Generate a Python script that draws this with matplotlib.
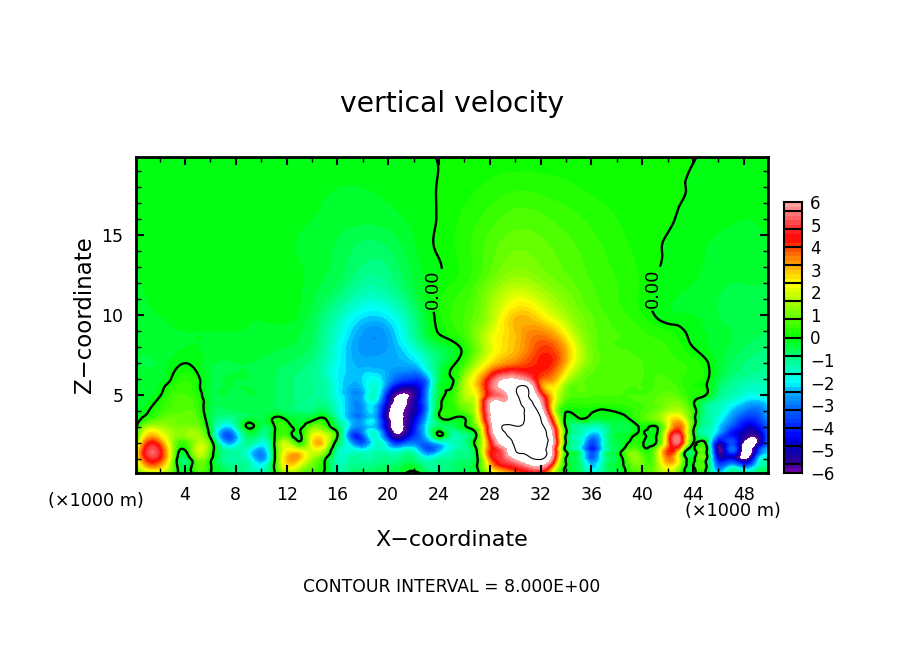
import numpy as np
import matplotlib
matplotlib.use('Agg')
import matplotlib.pyplot as plt
from matplotlib.colors import LinearSegmentedColormap
from matplotlib.tri import Triangulation, UniformTriRefiner

y_low = [0.1, 0.5, 1, 1.5, 2, 2.5, 3, 3.5, 4, 4.5, 5, 5.5, 6]
x_low = list(range(0, 51))
w_low = [
[0.3,1.2,1.4,0.6,-0.3,0.5,0.1,-0.5,-0.8,-1,-1.2,-0.1,1.2,1.0,0.5,-0.1,-1,-0.8,-0.7,-0.6,-0.5,-0.3,0.3,-0.5,-0.8,-0.6,-0.5,-0.1,1.5,2.5,3.5,4.2,4,2,-0.1,-0.5,-1.5,-0.8,-0.3,0.3,0.6,1,1.5,0.6,-0.1,0.1,-2,-1.2,-1,-0.9,-0.7],
[0.8,3,3,1,-0.6,0.8,0.1,-0.7,-1,-1.2,-1.8,0,2.4,1.8,0.8,0,-1.3,-1,-0.9,-0.8,-0.7,-0.5,-0.3,-1,-1,-0.8,-0.6,0,2.5,4,4.6,5.4,5.9,3,-0.1,-0.7,-2.2,-1,-0.4,0.5,0.8,1,2.5,1,-0.1,0.2,-3.2,-2,-3,-1.7,-1.2],
[1.2,4.3,4.2,1.3,-0.8,1.1,0.2,-1,-1.2,-1.6,-2.8,-0.3,2.9,2.9,1.4,0.1,-1.4,-1.2,-1.2,-1.1,-1,-0.9,-0.8,-1.6,-1.2,-1,-0.8,-0.1,3.5,5,6.2,7.5,8.1,5,-0.1,-0.9,-3.2,-1.3,-0.5,0.9,0.9,1,3.5,1.5,-0.2,0.3,-4.6,-4.5,-6.3,-3,-1.8],
[1.2,4.8,4.6,1.5,-0.1,1.9,0.6,-1,-1.2,-1.8,-2.8,-0.3,2.4,2.3,2,1.3,-1.3,-1.6,-1.8,-1.4,-1.6,-1.6,-1.6,-3.2,-2.5,-1.4,-1,0.1,4,5.2,7.9,8.3,8.6,5.5,-0.1,-1.2,-3.8,-1.5,-0.5,0.9,0.4,1,4,2,-0.5,0.3,-5.6,-3.3,-6.8,-4.5,-2.3],
[0,4,3.7,1.4,0.5,1.6,0.6,-2.2,-2.2,-1,-1.8,-0.1,1.8,0.2,2.4,2.4,-0.6,-2.4,-3.4,-1.6,-2.8,-3.8,-3,-3.2,-2.2,-1.5,-1,0.5,4,6.8,8.2,8.6,8.4,6.2,-0.1,-1.4,-3.6,-1.6,-0.5,0.1,0.1,-0.1,3.2,4.7,0,-0.1,-5,-3.5,-6.5,-6.2,-2.8],
[-0.5,2.7,2.5,1.5,1.3,1.5,-0.3,-3.2,-2.6,-0.6,-1,-0.1,0.5,-0.2,2,2,0.05,-3.3,-3.3,-1.6,-4.5,-5.8,-4,-2.2,0.1,-1.2,-1,0.2,4.8,7.6,8.4,8.2,8.5,5.8,-0.1,-1.4,-2.6,-1.5,-0.4,-0.2,0.1,-0.1,3,4.6,0.2,-1.2,-3,-4.2,-5.2,-5.6,-2.8],
[-0.4,1.5,1.6,1.2,1.1,1,-0.5,-2.2,-1.5,0.1,-0.6,-0.1,0.4,-0.2,1,0.6,-0.6,-2.4,-2.7,-2.5,-5.5,-6.4,-4.4,-2,-0.6,-0.7,-0.1,1,5.3,8.05,8.1,8.3,8.4,5,-0.1,-1.2,-1.5,-1.2,-0.5,-0.5,0.1,-0.1,2,3.7,0.3,-1.2,-2.2,-3.5,-4.6,-4.6,-3],
[-0.3,0.3,0.8,1,0.9,0.7,-0.5,-1.1,-0.9,-0.4,-0.5,0.1,-0.1,-0.4,-0.2,0.05,-1.2,-2.5,-2.7,-2.5,-5.8,-6.3,-4.8,-2.5,-0.3,-0.05,-0.05,1.8,5.9,7.6,7.4,8.4,8.05,3.5,-0.2,-0.1,-0.3,-0.3,-0.3,0,0.6,1,2.2,2.6,0.4,-1.1,-1.8,-2.8,-3.8,-3.8,-2.6],
[-0.3,-0.05,0.4,0.7,0.8,0.5,-0.5,-0.7,-0.6,-0.5,-0.5,-0.5,-0.7,-0.8,-0.8,-0.7,-1.6,-2.6,-2.7,-2.5,-5.8,-6.3,-5.2,-3,-0.1,0.3,0.7,2.2,6.1,7,7,8.4,7.2,2.2,0.03,0.1,0.05,-0.05,0.05,0.3,0.6,0.9,1.5,1.6,0.4,-1,-1.5,-2.3,-3,-3.2,-2.4],
[-0.3,-0.2,0.2,0.6,0.7,0.4,-0.4,-0.5,-0.5,-0.5,-0.5,-0.6,-0.7,-0.9,-1,-1,-1.7,-2.6,-2.6,-2.2,-5.2,-6.4,-5.3,-3,-0.2,0.3,1.2,2.3,6,6.2,7.2,8.4,6.2,2.4,0.5,0.4,0.4,0.4,0.4,0.5,0.6,0.8,1.1,1.1,0.1,-0.9,-1.3,-1.8,-2.3,-2.6,-2],
[-0.3,-0.3,-0.05,0.5,0.6,0.25,-0.4,-0.4,-0.5,-0.4,-0.5,-0.6,-0.7,-0.9,-1,-1.2,-1.9,-2.6,-2.5,-1.6,-4.6,-6.2,-5.6,-3,-0.4,0.3,1.6,2.4,4.8,5.5,7.6,8.1,5,2.5,0.9,0.7,0.6,0.6,0.6,0.6,0.6,0.7,0.9,0.6,0.3,0,-0.9,-1.3,-1.7,-1.8,-1.6],
[-0.3,-0.3,-0.15,0.3,0.5,0.12,-0.4,-0.4,-0.4,-0.4,-0.5,-0.6,-0.7,-0.9,-1,-1.2,-1.9,-2.5,-2.3,-1.6,-3.4,-5,-5,-3.2,-0.4,0,1.6,2.8,5,6.3,7.6,7.8,3.7,2.5,1.1,0.8,0.7,0.7,0.7,0.6,0.6,0.6,0.7,0.5,0.2,0.05,-0.7,-1.1,-1.4,-1.5,-1.4],
[-0.3,-0.3,-0.3,0.05,0.35,0.1,-0.4,-0.4,-0.4,-0.4,-0.5,-0.6,-0.7,-0.9,-1,-1.3,-2,-2.3,-2.2,-1.9,-2.7,-3.5,-3.8,-3,-0.6,-0.05,1.4,2.8,4.6,6,6.2,5.5,3.8,3.3,1.8,1,0.7,0.7,0.7,0.7,0.6,0.6,0.6,0.4,0.3,0.1,-0.5,-0.9,-1.1,-1.2,-1.2],
]
y_high = [7, 8, 9, 10, 12, 14, 16, 18, 19.9]
x_high = list(range(0, 51, 2))
w_high = [
[-.4,-.35,0,-.35,-.4,-.45,-.6,-.9,-1.9,-2.5,-2.5,-2.3,-.7,.5,2.6,3.6,4.3,3,1,.7,.6,.5,.3,-.3,-.8,-1],
[-.35,-.3,-.2,-.25,-.3,-.3,-.4,-.7,-1.8,-2.7,-2.6,-1.6,-.5,.2,2,3,4,3,1,.6,.5,.4,0,-.3,-.6,-.8],
[-.3,-.25,-.2,-.2,-.2,-.25,-.3,-.6,-1.6,-2.6,-2.5,-1.1,.05,.6,1.9,3,3.4,2.2,.9,.6,.4,.2,-.1,-.3,-.5,-.6],
[-.25,-.2,-.15,-.15,-.15,-.15,-.1,-.5,-1.3,-2.1,-2,-.9,.15,.6,1.5,2.9,2.5,1.5,.8,.5,.2,-.15,-.2,-.4,-.5,-.5],
[-.25,-.1,-.08,-.1,-.1,-.1,-.08,-.3,-.6,-1.1,-1,-.4,.05,.35,1,1.6,1.3,.9,.6,.4,.15,-.1,-.2,-.35,-.4,-.4],
[-.2,-.1,-.05,-.05,-.1,-.15,-.15,-.3,-.45,-.7,-.65,-.25,.03,.3,.7,1,.9,.7,.5,.3,.12,-.03,-.15,-.25,-.3,-.25],
[-.2,-.1,-.03,-.05,-.1,-.12,-.15,-.2,-.3,-.35,-.3,-.15,.02,.25,.5,.7,.65,.5,.35,.2,.1,.03,-.08,-.15,-.2,-.15],
[-.05,-.03,-.03,-.05,-.08,-.1,-.12,-.15,-.2,-.2,-.15,-.07,.01,.12,.25,.35,.32,.25,.15,.1,.05,.03,-.015,-.06,-.07,-.05],
[-.02,-.02,-.02,-.02,-.02,-.02,-.02,-.02,-.02,-.03,-.05,-.07,.01,.05,.08,.08,.08,.06,.05,.04,.03,.02,.01,-.09,-.05,-.02],
]
x_ticks = [4, 8, 12, 16, 20, 24, 28, 32, 36, 40, 44, 48]
y_ticks = [5, 10, 15]
bar_ticks = [6, 5, 4, 3, 2, 1, 0, -1, -2, -3, -4, -5, -6]
bar_breaks = [-5.6, -4.8, -4, -3.2, -2.4, -1.6, -0.8, 0, 0.8, 1.6, 2.4, 3.2, 4, 4.8, 5.6]
nodes = [(-6,(120,0,170)),(-5.5,(40,0,150)),(-4.8,(0,0,190)),(-4.4,(0,0,255)),(-3.2,(0,100,255)),
         (-2.4,(0,180,255)),(-2,(0,255,255)),(-1.6,(0,255,210)),(-0.8,(0,255,120)),(0,(0,255,0)),
         (0.8,(90,255,0)),(1.6,(170,255,0)),(2.4,(255,255,0)),(3.2,(255,170,0)),(4,(255,70,0)),
         (4.4,(255,0,0)),(5,(255,60,60)),(6,(255,170,170))]
cmap = LinearSegmentedColormap.from_list('w', [((v+6)/12, tuple(c/255 for c in col)) for v, col in nodes], N=256)
levels = np.arange(-30, 31) * 0.2

W, H = 904, 654
fig = plt.figure(figsize=(W/100, H/100), dpi=100, facecolor='white')
plt.rcParams['font.family'] = 'DejaVu Sans'

def px_axes(x0, y0, x1, y1):
    return fig.add_axes([x0/W, 1-y1/H, (x1-x0)/W, (y1-y0)/H])

ax = px_axes(136, 157, 768, 473)
ax.set_facecolor('white')

xx_l, yy_l = np.meshgrid(x_low, y_low)
xx_h, yy_h = np.meshgrid(x_high, y_high)
px = np.r_[xx_l.ravel(), xx_h.ravel()].astype(float)
py = np.r_[yy_l.ravel(), yy_h.ravel()].astype(float)
pz = np.r_[np.array(w_low, float).ravel(), np.array(w_high, float).ravel()]

tri = Triangulation(px, py)
fine, zf = UniformTriRefiner(tri).refine_field(pz, subdiv=3)

ax.tricontourf(fine, zf, levels=levels, cmap=cmap, vmin=-6, vmax=6, antialiased=False)
cs0 = ax.tricontour(fine, zf, levels=[0], colors='black', linewidths=1.7)
ax.tricontour(fine, zf, levels=[8], colors='black', linewidths=0.8)
labels = ax.clabel(cs0, fmt='%.2f', fontsize=13, inline=True, inline_spacing=3,
                   manual=[(23.7, 11.6), (41.2, 11.6)])
for t in labels:
    t.set_rotation(90)

ax.set_xlim(0.14, 49.9)
ax.set_ylim(0.125, 19.9)
ax.set_xticks(x_ticks)
ax.set_xticks([t for t in range(2, 50, 2) if t not in x_ticks], minor=True)
ax.set_yticks(y_ticks)
ax.set_yticks([t for t in range(1, 20) if t not in y_ticks], minor=True)
ax.tick_params(which='major', direction='in', length=6, width=1.5, top=True, right=True, labelsize=12.5, pad=9)
ax.tick_params(which='minor', direction='in', length=3.5, width=1.0, top=True, right=True)
for s in ax.spines.values():
    s.set_linewidth(2)

fig.text(452/W, 1-104/H, 'vertical velocity', ha='center', va='center', fontsize=20.3)
fig.text(452/W, 1-540/H, 'X\u2212coordinate', ha='center', va='center', fontsize=16)
fig.text(84/W, 1-315/H, 'Z\u2212coordinate', ha='center', va='center', rotation=90, fontsize=16.5)
fig.text(96/W, 1-501/H, '(\u00d71000 m)', ha='center', va='center', fontsize=12.7)
fig.text(733/W, 1-511/H, '(\u00d71000 m)', ha='center', va='center', fontsize=12.7)
fig.text(452/W, 1-587/H, 'CONTOUR INTERVAL = 8.000E+00', ha='center', va='center', fontsize=12.4)

cax = px_axes(784, 202, 802, 473)
grid = np.arange(-30, 31) * 0.2
cax.pcolormesh([0, 1], grid, ((grid[:-1]+grid[1:])/2)[:, None], cmap=cmap, vmin=-6, vmax=6)
cax.hlines(bar_breaks, 0, 1, color='black', lw=1.5)
cax.set_xlim(0, 1)
cax.set_ylim(-6, 6)
cax.set_xticks([])
cax.yaxis.tick_right()
cax.set_yticks(bar_ticks)
cax.set_yticklabels([str(t).replace('-', '\u2212') for t in bar_ticks], fontsize=12)
cax.tick_params(axis='y', length=0, pad=6)
for s in cax.spines.values():
    s.set_linewidth(1.5)

fig.savefig('out.png', dpi=100)
